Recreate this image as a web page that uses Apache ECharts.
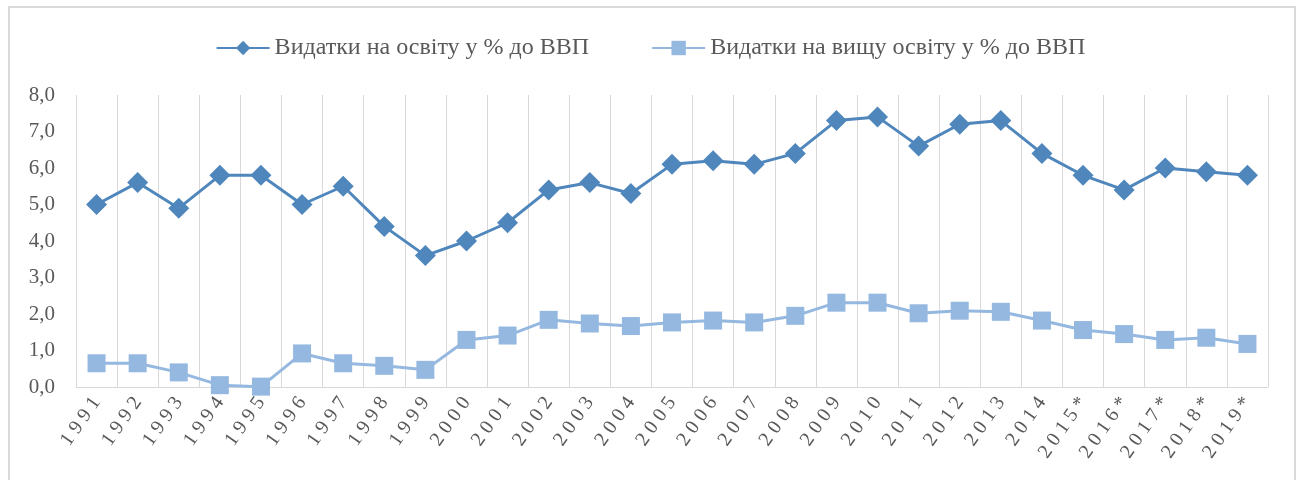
<!DOCTYPE html>
<html>
<head>
<meta charset="utf-8">
<script src="https://cdn.jsdelivr.net/npm/echarts@6/dist/echarts.min.js"></script>
<style>
html, body { margin: 0; padding: 0; background: #fff; }
#frame { position: absolute; left: 8px; top: 6px; width: 1288px; height: 480px; border: 2px solid #d9d9d9; box-sizing: border-box; }
#echart { position: absolute; left: 0; top: 0; width: 1301px; height: 480px; }
</style>
</head>
<body>
<div id="frame"></div>
<div id="echart"></div>
<script>
// categories (years, * = forecast)
var years = ['1991', '1992', '1993', '1994', '1995', '1996', '1997', '1998', '1999', '2000',
    '2001', '2002', '2003', '2004', '2005', '2006', '2007', '2008', '2009', '2010',
    '2011', '2012', '2013', '2014', '2015*', '2016*', '2017*', '2018*', '2019*'];

// видатки на освіту, % ВВП
var eduSpend = [5.0, 5.6, 4.9, 5.8, 5.8, 5.0, 5.5, 4.4, 3.6, 4.0,
    4.5, 5.4, 5.6, 5.3, 6.1, 6.2, 6.1, 6.4, 7.3, 7.4,
    6.6, 7.2, 7.3, 6.4, 5.8, 5.4, 6.0, 5.9, 5.8];

// видатки на вищу освіту, % ВВП
var higherEduSpend = [0.65, 0.65, 0.4, 0.05, 0.01, 0.92, 0.65, 0.58, 0.47, 1.29,
    1.41, 1.84, 1.74, 1.67, 1.77, 1.82, 1.77, 1.95, 2.31, 2.31,
    2.02, 2.09, 2.06, 1.82, 1.56, 1.45, 1.29, 1.35, 1.18];

var seriesNames = ['Видатки на освіту у % до ВВП', 'Видатки на вищу освіту у % до ВВП'];

var chart = echarts.init(document.getElementById('echart'));
var serif = '"Liberation Serif", "DejaVu Serif", serif';

chart.setOption({
    animation: false,
    legend: {
        top: 31,
        left: 'center',
        itemWidth: 53,
        itemHeight: 18,
        itemGap: 62,
        textStyle: { fontFamily: serif, fontSize: 24, color: '#595959' },
        data: seriesNames
    },
    grid: {
        left: 76,
        right: 33,
        top: 95,
        bottom: 93,
        containLabel: false
    },
    xAxis: {
        type: 'category',
        boundaryGap: true,
        data: years,
        axisLine: { lineStyle: { color: '#d9d9d9', width: 1 } },
        axisTick: { show: false },
        splitLine: { show: true, lineStyle: { color: '#d9d9d9', width: 1 } },
        axisLabel: {
            interval: 0,
            rotate: 55,
            margin: 12,
            fontFamily: serif,
            fontSize: 20,
            color: '#595959',
            // the source spreads the digits out
            formatter: function (v) { return v.split('').join(' '); }
        }
    },
    yAxis: {
        type: 'value',
        min: 0,
        max: 8,
        interval: 1,
        axisLine: { show: false },
        axisTick: { show: false },
        splitLine: { show: false },
        axisLabel: {
            margin: 21,
            fontFamily: serif,
            fontSize: 21,
            color: '#595959',
            formatter: function (v) { return v.toFixed(1).replace('.', ','); }
        }
    },
    series: [{
        name: seriesNames[0],
        type: 'line',
        data: eduSpend,
        symbol: 'diamond',
        symbolSize: 21,
        itemStyle: { color: '#4f87bd' },
        lineStyle: { color: '#4f87bd', width: 3 }
    }, {
        name: seriesNames[1],
        type: 'line',
        data: higherEduSpend,
        symbol: 'rect',
        symbolSize: 18,
        itemStyle: { color: '#95b8e0' },
        lineStyle: { color: '#95b8e0', width: 3 }
    }]
});
</script>
</body>
</html>
